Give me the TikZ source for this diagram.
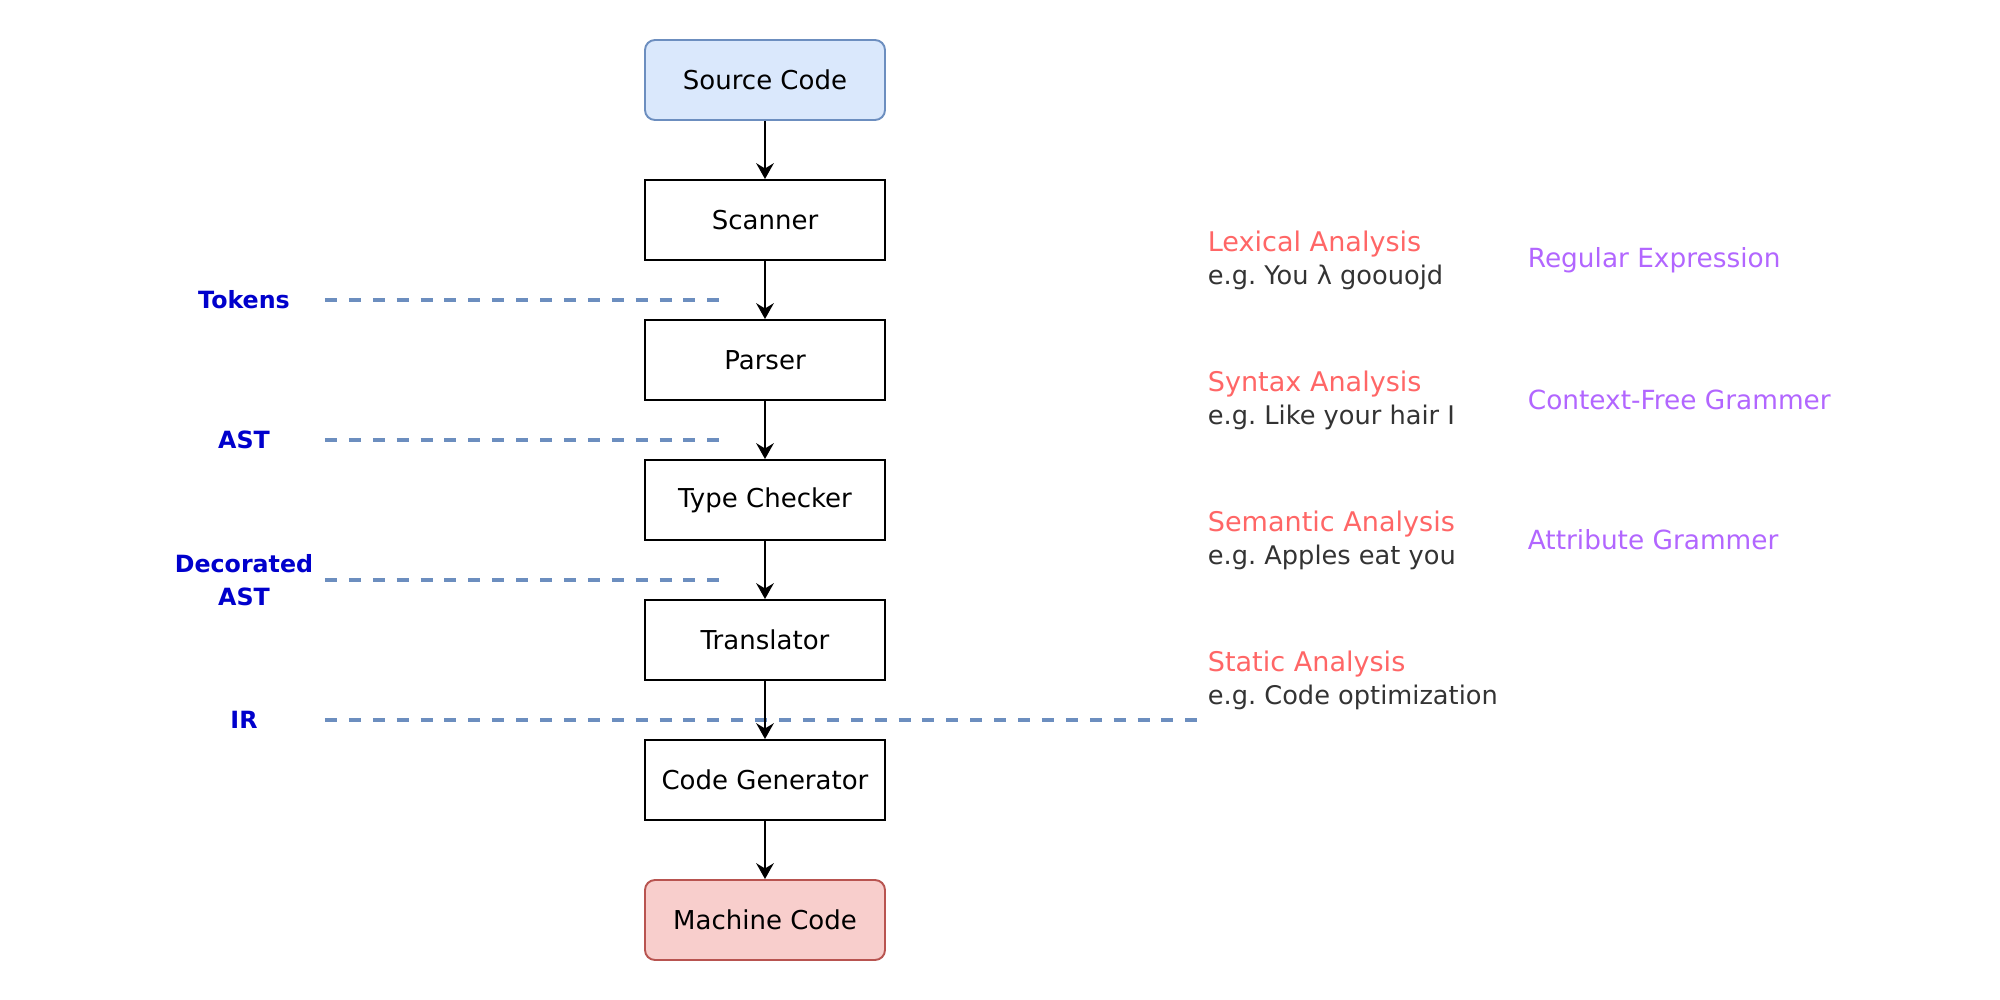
\documentclass[tikz,border=0pt]{standalone}
\usepackage{fontspec}
\setmainfont{DejaVu Sans}
\usetikzlibrary{arrows.meta}
\definecolor{azulfill}{HTML}{DAE8FC}
\definecolor{azulborda}{HTML}{6C8EBF}
\definecolor{vermfill}{HTML}{F8CECC}
\definecolor{vermborda}{HTML}{B85450}
\definecolor{azulrep}{HTML}{0000CC}
\definecolor{fasecor}{HTML}{FF6666}
\definecolor{gramcor}{HTML}{B266FF}
\definecolor{excor}{HTML}{333333}
\frenchspacing

\begin{document}
\begin{tikzpicture}[
  font=\fontsize{14.8}{18.8}\selectfont,
  etapa/.style={draw, line width=1.1pt, minimum width=4.8cm, minimum height=1.6cm, inner sep=0pt, anchor=center},
  ponta/.style={etapa, rounded corners=0.2cm},
  fonte/.style={ponta, fill=azulfill, draw=azulborda},
  saida/.style={ponta, fill=vermfill, draw=vermborda},
  fluxo/.style={line width=1.1pt, -{Stealth[length=9pt, width=10pt, inset=3pt]}},
  sep/.style={draw=azulborda, line width=2.2pt, dash pattern=on 6.8pt off 6.8pt},
  rep/.style={text=azulrep, font=\fontsize{13.5}{18.8}\selectfont\bfseries, align=center, inner sep=0pt},
  fase/.style={anchor=west, align=left, inner sep=0pt},
  gram/.style={anchor=west, text=gramcor, inner sep=0pt, font=\fontsize{15}{18.8}\selectfont}
]
\useasboundingbox (-15.3, 1.6) rectangle (24.7, -18.4);
\def\dy{2.8}
% etapas do compilador
\foreach \nome/\txt/\s [count=\i from 0] in {src/Source Code/fonte, scan/Scanner/etapa, parse/Parser/etapa, check/Type Checker/etapa, trans/Translator/etapa, gen/Code Generator/etapa, mach/Machine Code/saida}
  \node[\s] (\nome) at (0, {-\i*\dy}) {\txt};
% representações intermediárias
\foreach \nome/\txt/\i/\fim in {tok/Tokens/1/-0.9, ast/AST/2/-0.9, dast/{Decorated\\AST}/3/-0.9, ir/IR/4/8.7} {
  \node[rep] (\nome) at (-10.42, {-(1.6+\i*\dy)}) {\txt};
  \coordinate (\nome-a) at (-8.8, {-(1.6+\i*\dy)});
  \coordinate (\nome-b) at (\fim, {-(1.6+\i*\dy)});
  \draw[sep] (\nome-a) -- (\nome-b);
}
% setas
\foreach \a/\b in {src/scan, scan/parse, parse/check, check/trans, trans/gen, gen/mach}
  \draw[fluxo] (\a) -- (\b);
% análises
\foreach \nome/\fa/\ex/\i in {lex/Lexical Analysis/{e.g. You λ goouojd}/1, sint/Syntax Analysis/{e.g. Like your hair I}/2, sem/Semantic Analysis/{e.g. Apples eat you}/3, est/Static Analysis/{e.g. Code optimization}/4}
  \node[fase] (\nome) at (8.85, {-(0.8+\i*\dy)}) {{\fontsize{15.4}{18.8}\selectfont\color{fasecor}\fa}\\{\fontsize{14.6}{18.8}\selectfont\color{excor}\ex}};
% gramáticas
\foreach \nome/\txt/\i in {regex/Regular Expression/1, cfg/Context-Free Grammer/2, attr/Attribute Grammer/3}
  \node[gram] (\nome) at (15.25, {-(0.8+\i*\dy)}) {\txt};
\end{tikzpicture}
\end{document}
